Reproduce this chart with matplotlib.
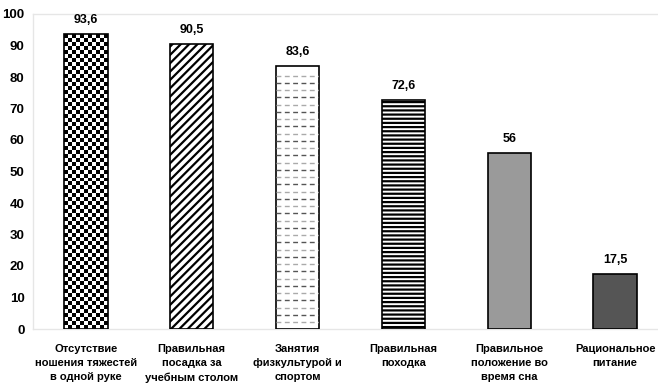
import numpy as np
import matplotlib
matplotlib.use("Agg")
from matplotlib import pyplot as plt

categories = [
    "Отсутствие\nношения тяжестей\nв одной руке",
    "Правильная\nпосадка за\nучебным столом",
    "Занятия\nфизкультурой и\nспортом",
    "Правильная\nпоходка",
    "Правильное\nположение во\nвремя сна",
    "Рациональное\nпитание",
]
values = [93.6, 90.5, 83.6, 72.6, 56, 17.5]
value_labels = ["93,6", "90,5", "83,6", "72,6", "56", "17,5"]
y_ticks = [0, 10, 20, 30, 40, 50, 60, 70, 80, 90, 100]

plt.rcParams['font.family'] = ['Liberation Sans', 'DejaVu Sans']
plt.rcParams['hatch.linewidth'] = 1.6

fig = plt.figure(figsize=(6.58, 3.88), dpi=100)
ax = fig.add_axes([33/658, 59/388, (668-33)/658, 315/388])

x = np.arange(len(values))
width = 0.41
faces = ["white", "white", "white", "white", "#9a9a9a", "#555555"]
hatches = [None, "////", None, "----", None, None]
bars = ax.bar(x, values, width, color=faces, edgecolor="black",
              linewidth=1.2, zorder=3)
for b, h in zip(bars, hatches):
    if h:
        b.set_hatch(h)

# checkerboard texture for the first bar
b0 = bars[0]
bx, bw, bh = b0.get_x(), b0.get_width(), b0.get_height()
nx, ny = 11, 74
checker = (np.add.outer(np.arange(ny), np.arange(nx)) % 2).astype(float)
im = ax.imshow(checker, cmap="gray", extent=(bx, bx + bw, 0, bh),
               interpolation="nearest", aspect="auto", zorder=2)
im.set_clip_path(b0)
b0.set_facecolor("none")

# dashed grey lines for the third bar
b2 = bars[2]
for i, yy in enumerate(np.arange(2.2, b2.get_height() - 1, 2.3)):
    ln = ax.hlines(yy, b2.get_x(), b2.get_x() + b2.get_width(),
                   colors="#555555" if i % 2 else "#aaaaaa",
                   linestyles=(0, (3.5, 2.5)), linewidth=1.0, zorder=3.5)
    ln.set_clip_path(b2)

for b, lab in zip(bars, value_labels):
    ax.text(b.get_x() + b.get_width() / 2, b.get_height() + 2.5, lab,
            ha="center", va="bottom", fontsize=9, fontweight="bold")

ax.set_xlim(-0.5, 5.5)
ax.set_ylim(0, 100)
ax.set_yticks(y_ticks)
ax.set_xticks(x)
ax.set_xticklabels(categories, fontsize=8, fontweight="bold", linespacing=1.5)
for t in ax.get_yticklabels():
    t.set_fontweight("bold")
    t.set_fontsize(9.5)
ax.tick_params(axis="both", length=0, pad=6)
ax.tick_params(axis="x", pad=11)

for s in ["left", "top", "bottom"]:
    ax.spines[s].set_color("#e6e6e6")
    ax.spines[s].set_linewidth(1.0)
ax.spines["right"].set_visible(False)

fig.savefig("out.png", dpi=100)
